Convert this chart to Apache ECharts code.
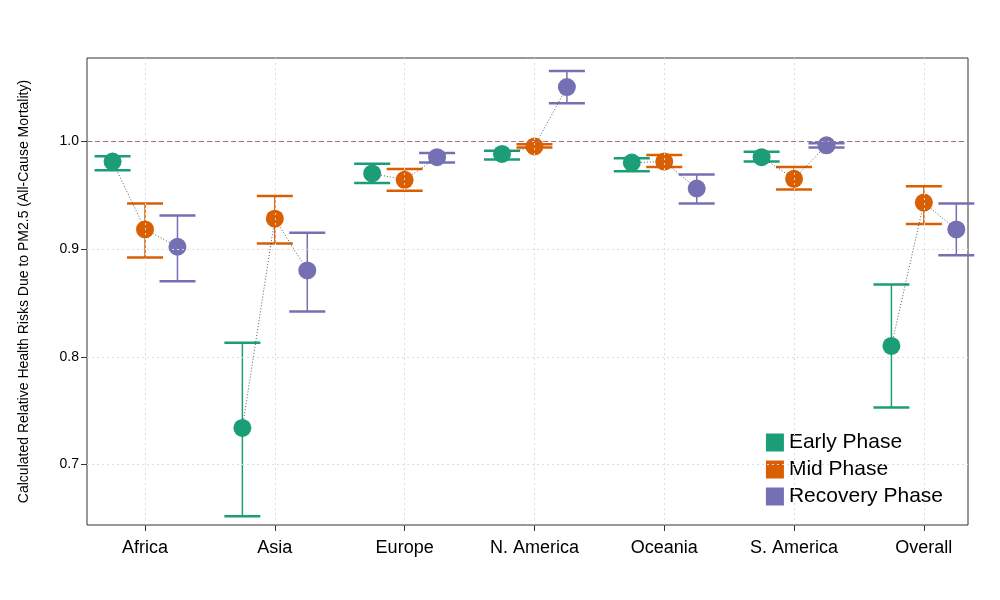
<!DOCTYPE html>
<html><head><meta charset="utf-8">
<script src="https://cdn.jsdelivr.net/npm/echarts@6/dist/echarts.min.js"></script>
<style>html,body{margin:0;background:#fff}#c{width:1000px;height:600px}</style>
</head><body><div id="c"></div>
<script>
const regions = ['Africa', 'Asia', 'Europe', 'N. America', 'Oceania', 'S. America', 'Overall'];
const phases = ['Early Phase', 'Mid Phase', 'Recovery Phase'];
const colors = ['#1B9E77', '#D95F02', '#7570B3'];
const yTicks = [0.7, 0.8, 0.9, 1.0];
// point estimates per phase
const earlyMean = [0.981, 0.734, 0.970, 0.988, 0.980, 0.985, 0.810];
const midMean = [0.918, 0.928, 0.964, 0.995, 0.981, 0.965, 0.943];
const recMean = [0.902, 0.880, 0.985, 1.050, 0.956, 0.996, 0.918];
// lower / upper bounds
const earlyLow = [0.973, 0.652, 0.961, 0.983, 0.972, 0.981, 0.753];
const earlyHigh = [0.986, 0.813, 0.979, 0.991, 0.984, 0.990, 0.867];
const midLow = [0.892, 0.905, 0.954, 0.994, 0.976, 0.955, 0.923];
const midHigh = [0.942, 0.949, 0.974, 0.997, 0.987, 0.976, 0.958];
const recLow = [0.870, 0.842, 0.980, 1.035, 0.942, 0.994, 0.894];
const recHigh = [0.931, 0.915, 0.989, 1.065, 0.969, 0.998, 0.942];

const means = [earlyMean, midMean, recMean];
const lows = [earlyLow, midLow, recLow];
const highs = [earlyHigh, midHigh, recHigh];
const offsets = [-0.25, 0, 0.25];

const chart = echarts.init(document.getElementById('c'));
const series = [];

// grid lines and reference line
series.push({
  type: 'line', data: [], silent: true,
  markLine: {
    symbol: 'none', silent: true, label: { show: false },
    lineStyle: { color: '#dddddd', type: [2, 3], width: 1 },
    data: yTicks.map(v => ({ yAxis: v }))
      .concat(regions.map((r, i) => ({ xAxis: i + 1 })))
      .concat([{ yAxis: 1.0, lineStyle: { color: '#a07090', type: [5, 3], width: 1 } }])
  }
});

// dotted connectors within each region
regions.forEach((r, i) => {
  series.push({
    type: 'line', symbol: 'none', silent: true, z: 3,
    lineStyle: { color: '#333', width: 0.8, type: [1, 2] },
    data: phases.map((p, k) => [i + 1 + offsets[k], means[k][i]])
  });
});

phases.forEach((p, k) => {
  series.push({
    type: 'custom', name: p, z: 2,
    itemStyle: { color: colors[k] },
    renderItem: (params, api) => {
      const x = api.value(0);
      const lo = api.coord([x, api.value(1)]);
      const hi = api.coord([x, api.value(2)]);
      const st = { stroke: colors[k], lineWidth: 2.5 };
      return { type: 'group', children: [
        { type: 'line', shape: { x1: lo[0], y1: lo[1], x2: hi[0], y2: hi[1] }, style: { stroke: colors[k], lineWidth: 1.5 } },
        { type: 'line', shape: { x1: lo[0] - 18, y1: lo[1], x2: lo[0] + 18, y2: lo[1] }, style: st },
        { type: 'line', shape: { x1: hi[0] - 18, y1: hi[1], x2: hi[0] + 18, y2: hi[1] }, style: st }
      ]};
    },
    data: regions.map((r, i) => [i + 1 + offsets[k], lows[k][i], highs[k][i]])
  });
  series.push({
    type: 'scatter', name: p, symbolSize: 18, z: 4,
    itemStyle: { color: colors[k], opacity: 1 },
    data: regions.map((r, i) => [i + 1 + offsets[k], means[k][i]])
  });
});

chart.setOption({
  animation: false,
  textStyle: { fontFamily: 'Liberation Sans, Arial, sans-serif' },
  grid: { left: 87, right: 32, top: 58, bottom: 75, show: true, borderColor: '#333', borderWidth: 1 },
  legend: {
    data: phases, orient: 'vertical', right: 52, bottom: 88, itemGap: 6,
    icon: 'rect', itemWidth: 18, itemHeight: 18,
    textStyle: { fontSize: 21, color: '#000' }
  },
  xAxis: {
    type: 'value', min: 0.553, max: 7.34,
    splitLine: { show: false },
    axisLine: { show: false },
    axisTick: { show: true, length: 6, lineStyle: { color: '#333' }, customValues: [1, 2, 3, 4, 5, 6, 7] },
    axisLabel: { fontSize: 18, color: '#000', margin: 14, customValues: [1, 2, 3, 4, 5, 6, 7],
      formatter: v => regions[Math.round(v) - 1] || '' }
  },
  yAxis: {
    type: 'value', min: 0.644, max: 1.077,
    name: 'Calculated Relative Health Risks Due to PM2.5 (All-Cause Mortality)',
    nameLocation: 'middle', nameGap: 56, nameTextStyle: { fontSize: 14, color: '#000' },
    splitLine: { show: false },
    axisLine: { show: false },
    axisTick: { show: true, length: 6, lineStyle: { color: '#333' }, customValues: yTicks },
    axisLabel: { fontSize: 14, color: '#000', customValues: yTicks, formatter: v => v.toFixed(1) }
  },
  series
});
</script>
</body></html>
